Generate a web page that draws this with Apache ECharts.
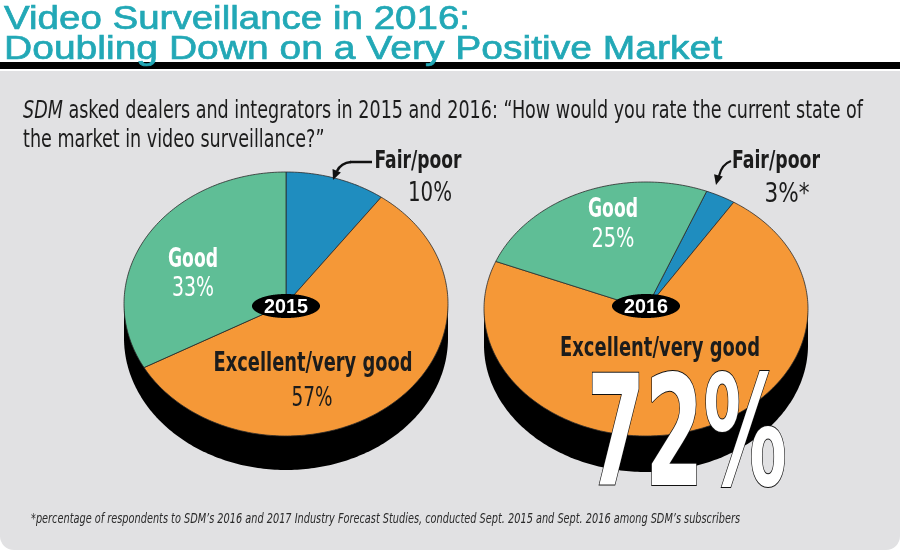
<!DOCTYPE html>
<html>
<head>
<meta charset="utf-8">
<script src="https://cdn.jsdelivr.net/npm/echarts@6/dist/echarts.min.js"></script>
<style>
  html, body { margin: 0; padding: 0; background: #fff; }
  #chart { width: 900px; height: 550px; }
</style>
</head>
<body>
<div id="chart"></div>
<script>
// data, clockwise from the start of each pie
var categories = ['Fair/poor', 'Excellent/very good', 'Good'];
var years = ['2015', '2016'];
var share2015 = [10, 57, 33];
var share2016 = [3, 72, 25];
var sliceColors = ['#1f8dbf', '#f59837', '#5fbe96'];

// tilted pie layout (top face ellipse + black side)
var pies = [
  { cx: 286, cy: 304, rx: 162, ry: 132, depth: 34, rot: 0 },
  { cx: 646, cy: 309, rx: 162, ry: 127, depth: 36, rot: 22 }
];

var NARROW = '"Liberation Sans Narrow", "DejaVu Sans Condensed", "Liberation Sans", sans-serif';
var SANS = '"Liberation Sans", Arial, sans-serif';

var measureCtx = document.createElement('canvas').getContext('2d');
function textWidth(font, s) {
  measureCtx.font = font;
  return measureCtx.measureText(s).width;
}

// text squeezed/stretched to the width it takes in the picture
function fitText(s, x, y, size, weight, italic, family, fill, targetW, align, extra) {
  var font = (italic ? 'italic ' : '') + weight + ' ' + size + 'px ' + family;
  var sx = targetW ? targetW / textWidth(font, s) : 1;
  var style = {
    text: s, fill: fill, fontSize: size, fontFamily: family, fontWeight: weight,
    fontStyle: italic ? 'italic' : 'normal',
    textAlign: align || 'center', textVerticalAlign: 'middle'
  };
  for (var k in extra || {}) style[k] = extra[k];
  return { type: 'text', x: x, y: y, scaleX: sx, z: 10, silent: true, style: style };
}

// points along an ellipse, angles in degrees clockwise from 12 o'clock
function arcPts(cx, cy, rx, ry, a0, a1) {
  var pts = [];
  var n = Math.max(2, Math.ceil(Math.abs(a1 - a0)));
  for (var k = 0; k <= n; k++) {
    var t = (a0 + (a1 - a0) * k / n) * Math.PI / 180;
    pts.push([cx + rx * Math.sin(t), cy - ry * Math.cos(t)]);
  }
  return pts;
}

function pieSeries(values, pie) {
  var total = values.reduce(function (a, b) { return a + b; }, 0);
  var acc = 0;
  var data = values.map(function (v, i) {
    var d = { name: categories[i], value: [v, acc] };
    acc += v;
    return d;
  });
  return {
    type: 'custom',
    coordinateSystem: 'none',
    silent: true,
    z: 5,
    data: data,
    renderItem: function (params, api) {
      var v = api.value(0), start = api.value(1);
      var a0 = pie.rot + start / total * 360;
      var a1 = pie.rot + (start + v) / total * 360;
      var pts = [[pie.cx, pie.cy]].concat(arcPts(pie.cx, pie.cy, pie.rx, pie.ry, a0, a1));
      return {
        type: 'polygon',
        shape: { points: pts },
        style: { fill: sliceColors[params.dataIndex], stroke: '#2b2b2b', lineWidth: 0.8, lineJoin: 'round' }
      };
    }
  };
}

function sideOf(pie) {
  var pts = [[pie.cx - pie.rx, pie.cy]]
    .concat(arcPts(pie.cx, pie.cy + pie.depth, pie.rx, pie.ry, 270, 90))
    .concat([[pie.cx + pie.rx, pie.cy]]);
  return { type: 'polygon', z: 1, silent: true, shape: { points: pts }, style: { fill: '#000' } };
}

function badge(pie, year) {
  return [
    { type: 'polygon', z: 9, silent: true,
      shape: { points: arcPts(pie.cx, 306, 34, 12, 0, 360) }, style: { fill: '#000' } },
    fitText(year, pie.cx, 307, 20, 'bold', false, SANS, '#fff', 44)
  ];
}

function arrow(path, tip, dir) {
  var len = Math.sqrt(dir[0] * dir[0] + dir[1] * dir[1]);
  var d = [dir[0] / len, dir[1] / len], p = [-d[1], d[0]];
  var b = [tip[0] - 10 * d[0], tip[1] - 10 * d[1]];
  return path.concat([{
    type: 'polygon', z: 10, silent: true,
    shape: { points: [tip, [b[0] + 4.5 * p[0], b[1] + 4.5 * p[1]], [b[0] - 4.5 * p[0], b[1] - 4.5 * p[1]]] },
    style: { fill: '#111' }
  }]);
}

var ink = '#1c1c1c';
var teal = '#22a8b6';

// subtitle: italic "SDM" then the rest, one common squeeze
var subSize = 24;
var subA = 'SDM', subB = ' asked dealers and integrators in 2015 and 2016: \u201cHow would you rate the current state of';
var subC = 'the market in video surveillance?\u201d';
var wA = textWidth('italic normal ' + subSize + 'px ' + NARROW, subA);
var wB = textWidth('normal ' + subSize + 'px ' + NARROW, subB);
var subScale = 840 / (wA + wB);

var elements = [
  { type: 'rect', z: 0, silent: true, shape: { x: 0, y: 71, width: 900, height: 479, r: [0, 0, 14, 14] }, style: { fill: '#e1e1e3' } },
  { type: 'rect', z: 0, silent: true, shape: { x: 0, y: 62, width: 900, height: 7 }, style: { fill: '#000' } },
  fitText('Video Surveillance in 2016:', 4, 20, 34, 'normal', false, SANS, teal, 466, 'left',
    { stroke: teal, lineWidth: 0.7 }),
  fitText('Doubling Down on a Very Positive Market', 4, 50, 34, 'normal', false, SANS, teal, 718, 'left',
    { stroke: teal, lineWidth: 0.7 }),
  { type: 'text', x: 23, y: 112, scaleX: subScale, z: 10, silent: true,
    style: { text: subA, fill: ink, fontSize: subSize, fontFamily: NARROW, fontStyle: 'italic', textAlign: 'left', textVerticalAlign: 'middle' } },
  { type: 'text', x: 23 + wA * subScale, y: 112, scaleX: subScale, z: 10, silent: true,
    style: { text: subB, fill: ink, fontSize: subSize, fontFamily: NARROW, textAlign: 'left', textVerticalAlign: 'middle' } },
  { type: 'text', x: 23, y: 141, scaleX: subScale, z: 10, silent: true,
    style: { text: subC, fill: ink, fontSize: subSize, fontFamily: NARROW, textAlign: 'left', textVerticalAlign: 'middle' } },
  sideOf(pies[0]),
  sideOf(pies[1]),

  // 2015 labels
  fitText(categories[0], 418, 162, 24, 'bold', false, NARROW, ink, 87),
  fitText(share2015[0] + '%', 430, 194, 27, 'normal', false, NARROW, ink, 44),
  fitText(categories[2], 193, 260, 26, 'bold', false, NARROW, '#fff', 50),
  fitText(share2015[2] + '%', 193, 289, 27, 'normal', false, NARROW, '#fff', 42),
  fitText(categories[1], 313, 364, 26, 'bold', false, NARROW, ink, 199),
  fitText(share2015[1] + '%', 312, 399, 26, 'normal', false, NARROW, ink, 41),

  // 2016 labels
  fitText(categories[0], 776, 162, 24, 'bold', false, NARROW, ink, 88),
  fitText(share2016[0] + '%*', 787, 195, 27, 'normal', false, NARROW, ink, 45),
  fitText(categories[2], 613, 210, 26, 'bold', false, NARROW, '#fff', 50),
  fitText(share2016[2] + '%', 613, 240, 27, 'normal', false, NARROW, '#fff', 43),
  fitText(categories[1], 660, 349, 26, 'bold', false, NARROW, ink, 200),
  fitText(share2016[1] + '%', 687, 445, 153, 'bold', false, NARROW, '#fff', 200, 'center',
    { stroke: '#111', lineWidth: 2 }),

  fitText('*percentage of respondents to SDM\u2019s 2016 and 2017 Industry Forecast Studies, conducted Sept. 2015 and Sept. 2016 among SDM\u2019s subscribers',
    31, 519, 14, 'normal', true, NARROW, '#2a2a2a', 709, 'left')
];

elements = elements.concat(badge(pies[0], years[0]), badge(pies[1], years[1]));

// callout arrows for the small slices
elements = elements.concat(arrow([
  { type: 'line', z: 10, silent: true, shape: { x1: 372, y1: 162, x2: 350, y2: 162 }, style: { stroke: '#111', lineWidth: 2.5 } },
  { type: 'bezierCurve', z: 10, silent: true, shape: { x1: 351, y1: 162, cpx1: 341, cpy1: 163, x2: 337, y2: 171 }, style: { stroke: '#111', lineWidth: 2.5, fill: null } }
], [333, 180], [-0.4, 1]));
elements = elements.concat(arrow([
  { type: 'bezierCurve', z: 10, silent: true, shape: { x1: 731, y1: 161, cpx1: 722, cpy1: 164, x2: 719, y2: 176 }, style: { stroke: '#111', lineWidth: 2.2, fill: null } }
], [716, 185], [-0.25, 1]));

var chart = echarts.init(document.getElementById('chart'));
chart.setOption({
  animation: false,
  backgroundColor: '#fff',
  graphic: { elements: elements },
  series: [pieSeries(share2015, pies[0]), pieSeries(share2016, pies[1])]
});
</script>
</body>
</html>
